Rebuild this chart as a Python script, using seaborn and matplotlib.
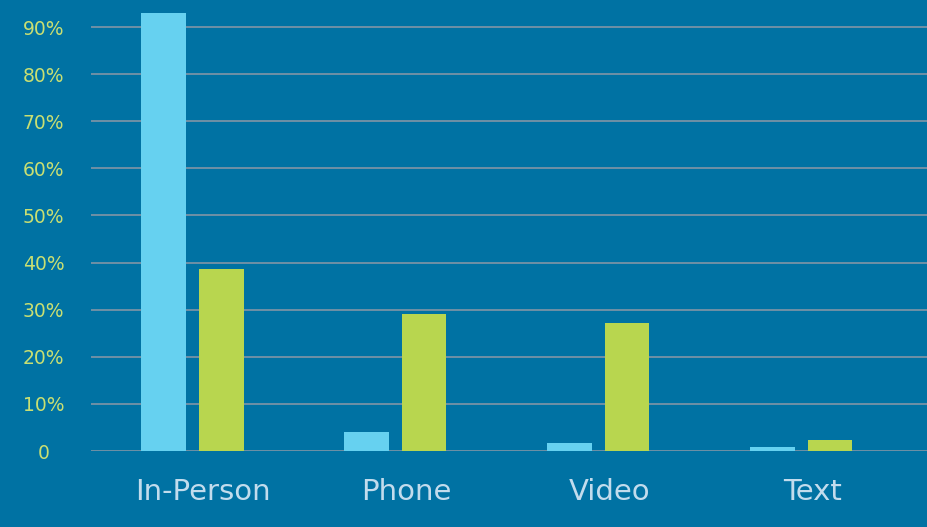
"""Share of contact type, two groups, grouped bars on a dark blue panel."""

import matplotlib
matplotlib.use("Agg")
import pandas as pd
import seaborn as sns
from matplotlib import pyplot as plt
from matplotlib.ticker import FuncFormatter
from matplotlib.transforms import ScaledTranslation

categories = ["In-Person", "Phone", "Video", "Text"]
groups = ["Group A", "Group B"]
group_a = [0.93, 0.04, 0.017, 0.008]
group_b = [0.386, 0.291, 0.272, 0.023]

BG = "#0072a3"
BAR_COLORS = ["#66d1f0", "#b8d64f"]

df = pd.DataFrame({
    "category": categories * 2,
    "group": [groups[0]] * len(categories) + [groups[1]] * len(categories),
    "share": group_a + group_b,
})

sns.set_style("white")
plt.rcParams["font.family"] = ["DejaVu Sans"]

fig = plt.figure(figsize=(9.27, 5.27), dpi=100, facecolor=BG)
ax = fig.add_axes([0.098, 0.144, 0.902, 0.856])
ax.set_facecolor(BG)

sns.barplot(data=df, x="category", y="share", hue="group", order=categories,
            palette=BAR_COLORS, width=0.57, gap=0.23, ax=ax, legend=False,
            saturation=1, edgecolor="none")

ax.set_ylim(0, 0.9573)
ax.set_xlim(-0.5, 3.62)
ax.set_yticks([i / 10 for i in range(10)])
ax.yaxis.set_major_formatter(FuncFormatter(lambda v, _: "0" if v == 0 else f"{v * 100:.0f}%"))
ax.grid(axis="y", color="#8196a6", linewidth=1.2)
ax.set_axisbelow(True)
for side in ax.spines.values():
    side.set_visible(False)

ax.tick_params(axis="y", length=0, pad=34, labelsize=13.5, labelcolor="#c9df72")
ax.tick_params(axis="x", length=0, pad=19, labelsize=21, labelcolor="#c2dced")
for lab in ax.get_yticklabels():
    lab.set_horizontalalignment("center")
# category labels sit a little right of the bar groups in the original
shift = ScaledTranslation(11 / 100, 0, fig.dpi_scale_trans)
for lab in ax.get_xticklabels():
    lab.set_transform(lab.get_transform() + shift)
ax.set_xlabel("")
ax.set_ylabel("")

fig.savefig("out.png", dpi=100, facecolor=BG)
